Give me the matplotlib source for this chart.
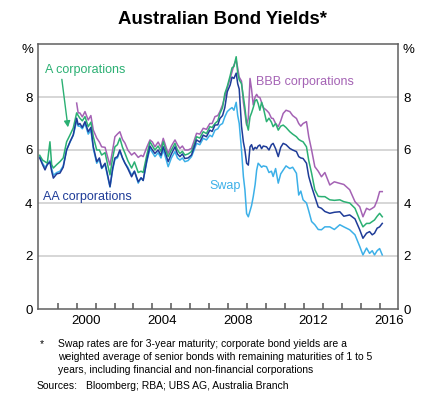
import numpy as np
import matplotlib
matplotlib.use("Agg")
import matplotlib.pyplot as plt
from matplotlib.ticker import FixedLocator

plt.rcParams['font.family'] = ['Liberation Sans', 'DejaVu Sans']

# decimal years shared by all series
dates = [1998.05, 1998.2, 1998.33, 1998.45, 1998.59, 1998.68, 1998.77, 1998.95,
         1999.12, 1999.29, 1999.47, 1999.65, 1999.82, 2000.0, 2000.08, 2000.17,
         2000.3, 2000.44, 2000.61, 2000.75, 2000.88, 2001.06, 2001.2, 2001.32,
         2001.5, 2001.65, 2001.76, 2001.9, 2002.02, 2002.15, 2002.28, 2002.42,
         2002.55, 2002.7, 2002.9, 2003.05, 2003.25, 2003.4, 2003.51, 2003.7,
         2003.87, 2004.0, 2004.13, 2004.3, 2004.45, 2004.57, 2004.7, 2004.83,
         2005.0, 2005.19, 2005.32, 2005.45, 2005.58, 2005.71, 2005.88, 2006.06,
         2006.2, 2006.33, 2006.5, 2006.68, 2006.85, 2007.03, 2007.15, 2007.3,
         2007.45, 2007.56, 2007.7, 2007.82, 2007.95, 2008.1, 2008.2, 2008.3,
         2008.42, 2008.5, 2008.58, 2008.7, 2008.8, 2008.88, 2008.97, 2009.06,
         2009.15, 2009.23, 2009.32, 2009.42, 2009.5, 2009.58, 2009.67, 2009.76,
         2009.85, 2010.02, 2010.15, 2010.28, 2010.37, 2010.5, 2010.64, 2010.77,
         2010.9, 2011.05, 2011.25, 2011.4, 2011.6, 2011.72, 2011.83, 2011.95,
         2012.13, 2012.25, 2012.4, 2012.57, 2012.75, 2012.92, 2013.1, 2013.36,
         2013.6, 2013.89, 2014.1, 2014.41, 2014.69, 2014.94, 2015.11, 2015.3,
         2015.46, 2015.6, 2015.72, 2015.86, 2015.99, 2016.13]

aa = [5.7, 5.45, 5.25, 5.45, 5.55, 5.2, 4.94, 5.1,
      5.13, 5.35, 6.0, 6.31, 6.57, 7.2, 6.95, 7.0,
      6.85, 7.07, 6.69, 6.85, 6.12, 5.56, 5.7, 5.32,
      5.5, 5.0, 4.62, 5.3, 5.7, 5.75, 6.0, 5.7,
      5.5, 5.3, 4.99, 5.2, 4.8, 4.95, 4.85, 5.6,
      6.15, 6.0, 5.87, 6.0, 5.8, 6.12, 5.85, 5.56,
      5.85, 6.12, 5.85, 5.75, 5.85, 5.68, 5.7, 5.81,
      6.1, 6.38, 6.3, 6.56, 6.5, 6.75, 6.7, 6.94,
      6.95, 7.19, 7.3, 7.6, 8.2, 8.45, 8.75, 8.7,
      8.9, 8.5, 8.3, 6.9, 6.3, 6.0, 5.5, 5.43,
      6.12, 6.2, 6.0, 6.1, 6.05, 6.15, 6.19, 6.05,
      6.15, 6.12, 6.0, 6.2, 6.25, 6.05, 5.75, 6.1,
      6.25, 6.2, 6.06, 6.0, 5.94, 5.75, 5.7, 5.68,
      5.5, 5.0, 4.62, 4.24, 3.85, 3.8, 3.68, 3.61,
      3.65, 3.67, 3.5, 3.55, 3.4, 2.99, 2.67, 2.86,
      2.92, 2.8, 2.86, 3.05, 3.1, 3.23]

a_corp = [5.8, 5.62, 5.56, 5.5, 6.31, 5.45, 5.32, 5.45,
          5.56, 5.7, 6.31, 6.57, 6.83, 7.4, 7.3, 7.2,
          7.1, 7.26, 6.88, 7.05, 6.5, 6.0, 6.0, 5.81,
          5.9, 5.4, 5.06, 5.7, 6.12, 6.2, 6.45, 6.1,
          5.88, 5.6, 5.32, 5.55, 5.15, 5.2, 5.15, 5.8,
          6.31, 6.15, 6.0, 6.15, 5.95, 6.31, 6.0, 5.75,
          6.0, 6.25, 6.0, 5.87, 5.95, 5.81, 5.85, 5.94,
          6.2, 6.5, 6.45, 6.69, 6.62, 6.88, 6.85, 7.0,
          7.1, 7.38, 7.6, 8.13, 8.4, 8.8, 9.1, 9.15,
          9.52, 8.9, 8.65, 8.5, 8.0, 7.6, 7.0, 6.75,
          7.25, 7.4, 7.6, 7.86, 7.9, 7.75, 7.5, 7.8,
          7.6, 7.07, 7.2, 7.05, 6.88, 7.0, 6.75, 6.9,
          6.94, 6.85, 6.69, 6.6, 6.5, 6.4, 6.35, 6.31,
          6.12, 5.6, 5.12, 4.5, 4.25, 4.24, 4.24, 4.12,
          4.1, 4.12, 4.05, 4.0, 3.8, 3.36, 3.1, 3.23,
          3.23, 3.3, 3.36, 3.5, 3.61, 3.48]

bbb = [np.nan] * 13 + [
       7.77, 7.4, 7.4,
       7.25, 7.45, 7.13, 7.3, 6.75, 6.45, 6.3, 6.12,
       6.1, 5.7, 5.43, 6.0, 6.5, 6.6, 6.69, 6.4,
       6.26, 6.0, 5.81, 5.9, 5.72, 5.8, 5.75, 6.1,
       6.38, 6.3, 6.12, 6.3, 6.1, 6.44, 6.15, 5.87,
       6.15, 6.38, 6.2, 6.06, 6.15, 6.0, 6.0, 6.06,
       6.35, 6.63, 6.6, 6.82, 6.78, 7.0, 7.0, 7.26,
       7.3, 7.45, 7.7, 8.0, 8.35, 8.7, 8.95, 9.2,
       9.4, 9.1, 8.75, 8.6, 7.8, 7.4, 6.94, 7.2,
       8.7, 8.3, 7.7, 8.0, 8.1, 8.0, 7.98, 7.8,
       7.6, 7.5, 7.4, 7.2, 7.19, 7.0, 6.88, 7.1,
       7.38, 7.5, 7.45, 7.3, 7.19, 7.0, 6.9, 7.0,
       7.07, 6.5, 6.0, 5.37, 5.2, 4.99, 5.15, 4.68,
       4.8, 4.74, 4.7, 4.5, 4.05, 3.86, 3.48, 3.8,
       3.74, 3.8, 3.86, 4.1, 4.43, 4.43]

swap = [5.75, 5.5, 5.35, 5.45, 5.6, 5.3, 5.05, 5.15,
        5.2, 5.4, 6.0, 6.3, 6.55, 7.1, 6.9, 6.9,
        6.8, 7.0, 6.6, 6.75, 6.05, 5.5, 5.65, 5.3,
        5.45, 4.95, 4.6, 5.25, 5.65, 5.7, 5.95, 5.7,
        5.5, 5.35, 5.05, 5.2, 4.75, 4.95, 4.85, 5.55,
        6.05, 5.9, 5.75, 5.9, 5.7, 6.0, 5.7, 5.37,
        5.7, 5.94, 5.7, 5.62, 5.7, 5.56, 5.6, 5.75,
        6.0, 6.25, 6.2, 6.44, 6.38, 6.56, 6.5, 6.75,
        6.8, 6.94, 7.0, 7.25, 7.45, 7.55, 7.6, 7.5,
        7.8, 7.3, 7.0, 6.0, 5.0, 4.5, 3.6, 3.48,
        3.7, 3.9, 4.24, 4.7, 5.24, 5.5, 5.43, 5.35,
        5.4, 5.37, 5.15, 5.2, 5.0, 5.3, 4.75, 5.1,
        5.24, 5.4, 5.3, 5.35, 5.12, 4.3, 4.45, 4.12,
        4.0, 3.7, 3.3, 3.18, 3.0, 2.99, 3.1, 3.1,
        3.0, 3.18, 3.1, 2.99, 2.8, 2.36, 2.04, 2.3,
        2.1, 2.2, 2.04, 2.2, 2.28, 2.04]

year_labels = [2000, 2004, 2008, 2012, 2016]
y_ticks = [0, 2, 4, 6, 8]

c_aa = '#1f3c98'
c_a = '#2bb073'
c_bbb = '#a462b4'
c_swap = '#3cb0e8'
c_axis = '#5f5f5f'

fig = plt.figure(figsize=(4.45, 3.96), dpi=100)
ax = fig.add_axes([38/445, 1-309/396, 360/445, 265/396])

ax.plot(dates, swap, color=c_swap, lw=1.1)
ax.plot(dates, bbb, color=c_bbb, lw=1.1)
ax.plot(dates, a_corp, color=c_a, lw=1.1)
ax.plot(dates, aa, color=c_aa, lw=1.1)

ax.set_xlim(1997.96, 2016.96)
ax.set_ylim(0, 10)
for v in y_ticks[1:]:
    ax.axhline(v, color='#cccccc', lw=1.1, zorder=0)

# year ticks at boundaries, labels centred in the year
ax.xaxis.set_major_locator(FixedLocator([y + 0.5 for y in year_labels]))
ax.set_xticklabels([str(y) for y in year_labels])
ax.xaxis.set_minor_locator(FixedLocator(list(range(1999, 2017))))
ax.xaxis.remove_overlapping_locs = False
ax.tick_params(axis='x', which='major', length=0, labelsize=9.5, pad=4)
ax.tick_params(axis='x', which='minor', direction='in', length=4.5, width=1.1,
               color='#555555', bottom=True)

ax.set_yticks(y_ticks)
ax.tick_params(axis='y', length=0, labelsize=9.5, labelleft=True, labelright=True, pad=4)

for s in ax.spines.values():
    s.set_color(c_axis)
    s.set_linewidth(1.1)

tr = ax.get_yaxis_transform()
ax.text(-0.012, 9.77, '%', transform=tr, ha='right', va='center', fontsize=9.5)
ax.text(1.012, 9.77, '%', transform=tr, ha='left', va='center', fontsize=9.5)

# series labels
ax.text(1998.33, 9.02, 'A corporations', color=c_a, fontsize=9, va='center')
ax.annotate('', xy=(1999.56, 6.75), xytext=(1999.2, 8.77),
            arrowprops=dict(arrowstyle='-|>', color=c_a, lw=1, mutation_scale=9))
ax.text(2009.47, 8.55, 'BBB corporations', color=c_bbb, fontsize=9, va='center')
ax.text(2007.0, 4.64, 'Swap', color=c_swap, fontsize=9, va='center')
ax.text(1998.2, 4.21, 'AA corporations', color=c_aa, fontsize=9, va='center')

fig.text(0.5, 1-20/396, 'Australian Bond Yields*', ha='center', va='center',
         fontsize=13.4, fontweight='bold')

notes = ['Swap rates are for 3-year maturity; corporate bond yields are a',
         'weighted average of senior bonds with remaining maturities of 1 to 5',
         'years, including financial and non-financial corporations']
fig.text(40/445, 1-344/396, '*', fontsize=7.45, va='center')
for i, line in enumerate(notes):
    fig.text(58/445, 1-(344+13*i)/396, line, fontsize=7.45, va='center')
fig.text(37/445, 1-386/396, 'Sources:', fontsize=7.45, va='center')
fig.text(86/445, 1-386/396, 'Bloomberg; RBA; UBS AG, Australia Branch', fontsize=7.45, va='center')

fig.savefig('out.png', dpi=100)
